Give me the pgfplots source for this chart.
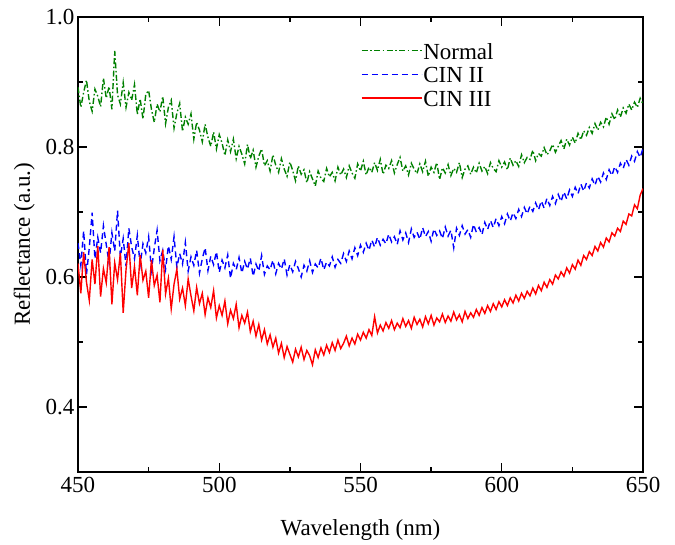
\documentclass[border=0pt]{standalone}
\usepackage{pgfplots}
\pgfplotsset{compat=1.18}
\usepackage{fontspec}
\setmainfont{Liberation Serif}

\pgfplotstableread{
x y
450 .892
451 .861
452 .884
453 .903
454 .870
455 .855
456 .889
457 .878
458 .862
459 .906
460 .875
461 .893
462 .858
463 .948
464 .880
465 .866
466 .899
467 .861
468 .884
469 .872
470 .896
471 .850
472 .874
473 .843
474 .881
475 .887
476 .858
477 .838
478 .866
479 .854
480 .878
481 .836
482 .861
483 .872
484 .829
485 .852
486 .867
487 .824
488 .846
489 .835
490 .851
491 .812
492 .838
493 .826
494 .808
495 .835
496 .815
497 .801
498 .823
499 .797
500 .819
501 .806
502 .787
503 .811
504 .793
505 .812
506 .782
507 .801
508 .789
509 .774
510 .804
511 .782
512 .795
513 .769
514 .786
515 .797
516 .771
517 .779
518 .763
519 .788
520 .772
521 .761
522 .782
523 .766
524 .755
525 .777
526 .764
527 .748
528 .771
529 .758
530 .765
531 .745
532 .762
533 .751
534 .740
535 .763
536 .752
537 .747
538 .767
539 .754
540 .761
541 .748
542 .769
543 .757
544 .766
545 .753
546 .771
547 .760
548 .752
549 .774
550 .763
551 .778
552 .757
553 .769
554 .761
555 .776
556 .764
557 .781
558 .758
559 .772
560 .767
561 .779
562 .760
563 .773
564 .784
565 .763
566 .771
567 .757
568 .775
569 .766
570 .759
571 .774
572 .762
573 .778
574 .755
575 .769
576 .761
577 .776
578 .750
579 .768
580 .760
581 .773
582 .756
583 .767
584 .761
585 .776
586 .753
587 .766
588 .771
589 .758
590 .769
591 .760
592 .775
593 .763
594 .770
595 .759
596 .776
597 .767
598 .762
599 .779
600 .769
601 .777
602 .765
603 .783
604 .772
605 .779
606 .770
607 .788
608 .776
609 .784
610 .781
611 .795
612 .779
613 .790
614 .786
615 .799
616 .788
617 .794
618 .804
619 .792
620 .801
621 .810
622 .797
623 .812
624 .803
625 .815
626 .806
627 .821
628 .811
629 .825
630 .818
631 .830
632 .821
633 .836
634 .826
635 .838
636 .831
637 .846
638 .835
639 .851
640 .842
641 .857
642 .846
643 .860
644 .852
645 .866
646 .857
647 .869
648 .861
649 .875
650 .866
}\normal

\pgfplotstableread{
x y
450 .652
451 .618
452 .671
453 .604
454 .645
455 .699
456 .628
457 .661
458 .637
459 .679
460 .650
461 .622
462 .668
463 .640
464 .702
465 .631
466 .659
467 .617
468 .675
469 .646
470 .628
471 .664
472 .619
473 .651
474 .637
475 .662
476 .611
477 .644
478 .672
479 .625
480 .641
481 .612
482 .648
483 .627
484 .662
485 .615
486 .636
487 .620
488 .653
489 .609
490 .631
491 .618
492 .641
493 .606
494 .628
495 .645
496 .610
497 .632
498 .619
499 .639
500 .607
501 .626
502 .614
503 .634
504 .598
505 .621
506 .611
507 .630
508 .606
509 .624
510 .612
511 .629
512 .601
513 .620
514 .609
515 .633
516 .604
517 .617
518 .611
519 .626
520 .605
521 .621
522 .612
523 .628
524 .603
525 .619
526 .608
527 .624
528 .613
529 .600
530 .618
531 .609
532 .625
533 .607
534 .620
535 .614
536 .629
537 .611
538 .623
539 .617
540 .631
541 .615
542 .627
543 .621
544 .636
545 .624
546 .640
547 .628
548 .645
549 .633
550 .649
551 .638
552 .652
553 .641
554 .657
555 .646
556 .661
557 .649
558 .658
559 .651
560 .666
561 .654
562 .662
563 .650
564 .671
565 .657
566 .668
567 .653
568 .674
569 .661
570 .669
571 .658
572 .676
573 .662
574 .670
575 .655
576 .674
577 .664
578 .671
579 .659
580 .677
581 .663
582 .672
583 .645
584 .675
585 .664
586 .679
587 .666
588 .673
589 .661
590 .681
591 .669
592 .676
593 .665
594 .684
595 .673
596 .687
597 .676
598 .690
599 .679
600 .693
601 .682
602 .697
603 .686
604 .699
605 .690
606 .704
607 .693
608 .707
609 .697
610 .709
611 .701
612 .714
613 .703
614 .717
615 .706
616 .721
617 .710
618 .724
619 .713
620 .727
621 .716
622 .731
623 .720
624 .734
625 .724
626 .738
627 .728
628 .743
629 .732
630 .745
631 .737
632 .751
633 .741
634 .755
635 .746
636 .760
637 .750
638 .765
639 .756
640 .770
641 .761
642 .775
643 .767
644 .781
645 .772
646 .786
647 .778
648 .793
649 .784
650 .798
}\cintwo

\pgfplotstableread{
x y
450 .621
451 .575
452 .638
453 .592
454 .564
455 .627
456 .589
457 .648
458 .570
459 .613
460 .591
461 .646
462 .558
463 .622
464 .596
465 .637
466 .545
467 .611
468 .652
469 .583
470 .616
471 .572
472 .634
473 .595
474 .609
475 .568
476 .626
477 .587
478 .603
479 .561
480 .642
481 .574
482 .598
483 .551
484 .589
485 .612
486 .566
487 .583
488 .556
489 .597
490 .571
491 .548
492 .584
493 .559
494 .575
495 .542
496 .568
497 .553
498 .579
499 .537
500 .556
501 .541
502 .563
503 .528
504 .549
505 .536
506 .558
507 .522
508 .541
509 .529
510 .546
511 .516
512 .532
513 .509
514 .527
515 .503
516 .519
517 .497
518 .511
519 .492
520 .506
521 .483
522 .498
523 .476
524 .493
525 .481
526 .469
527 .489
528 .477
529 .492
530 .473
531 .487
532 .479
533 .465
534 .488
535 .476
536 .491
537 .480
538 .495
539 .484
540 .499
541 .487
542 .503
543 .490
544 .498
545 .509
546 .494
547 .506
548 .497
549 .512
550 .503
551 .515
552 .506
553 .519
554 .510
555 .539
556 .514
557 .526
558 .517
559 .530
560 .521
561 .533
562 .519
563 .529
564 .522
565 .536
566 .524
567 .533
568 .521
569 .538
570 .527
571 .535
572 .523
573 .539
574 .528
575 .541
576 .526
577 .537
578 .531
579 .543
580 .530
581 .540
582 .532
583 .546
584 .534
585 .542
586 .531
587 .547
588 .536
589 .545
590 .538
591 .550
592 .541
593 .553
594 .544
595 .556
596 .547
597 .559
598 .550
599 .562
600 .554
601 .565
602 .556
603 .568
604 .560
605 .572
606 .563
607 .575
608 .567
609 .578
610 .571
611 .583
612 .574
613 .587
614 .579
615 .592
616 .584
617 .596
618 .589
619 .603
620 .597
621 .608
622 .601
623 .614
624 .606
625 .619
626 .612
627 .626
628 .618
629 .633
630 .627
631 .639
632 .633
633 .647
634 .640
635 .653
636 .646
637 .660
638 .654
639 .668
640 .663
641 .675
642 .670
643 .686
644 .681
645 .697
646 .694
647 .711
648 .705
649 .726
650 .736
}\cinthree

\definecolor{ngreen}{RGB}{0,128,0}
\tikzset{
  nstyle/.style={draw=ngreen, line width=1.4pt, dash pattern=on 6pt off 2.5pt on 1.5pt off 2.5pt},
  bstyle/.style={draw=blue, line width=1.4pt, dash pattern=on 6pt off 4pt},
  rstyle/.style={draw=red, line width=1.4pt},
}

\begin{document}
\begin{tikzpicture}
\begin{axis}[
  scale only axis,
  width=565pt, height=455pt,
  xmin=450, xmax=650, ymin=0.3, ymax=1.0,
  xtick={450,500,...,650},
  ytick={0.4,0.6,0.8,1.0},
  minor x tick num=1, minor y tick num=1,
  tick align=inside,
  major tick length=9pt, minor tick length=5pt,
  axis line style={line width=1.5pt},
  every tick/.style={black, line width=1.3pt},
  font=\fontsize{23}{27}\selectfont,
  /pgf/number format/assume math mode=true,
  yticklabel style={/pgf/number format/fixed, /pgf/number format/fixed zerofill, /pgf/number format/precision=1},
  xticklabel style={/pgf/number format/1000 sep={}, yshift=-2pt},
  xlabel={Wavelength (nm)},
  xlabel style={yshift=-20pt},
  ylabel={Reflectance (a.u.)},
  ylabel style={yshift=4pt},
  legend style={at={(0.495,0.955)}, anchor=north west, draw=none, fill=white,
    font=\fontsize{23}{27}\selectfont,
    nodes={inner xsep=1pt, inner ysep=3.5pt}},
  legend cell align=left,
  legend image code/.code={\path[#1] (0pt,1.6pt) -- (60pt,1.6pt);},
]
\addlegendimage{nstyle}
\addlegendentry{Normal}
\addlegendimage{bstyle}
\addlegendentry{CIN II}
\addlegendimage{rstyle}
\addlegendentry{CIN III}
\addplot[nstyle, forget plot] table[x=x,y=y] {\normal};
\addplot[bstyle, forget plot] table[x=x,y=y] {\cintwo};
\addplot[rstyle, forget plot] table[x=x,y=y] {\cinthree};
\end{axis}
\pgfresetboundingbox
\path ([shift={(-78pt,-72pt)}]current axis.south west) rectangle ++(675pt,544pt);
\end{tikzpicture}
\end{document}
